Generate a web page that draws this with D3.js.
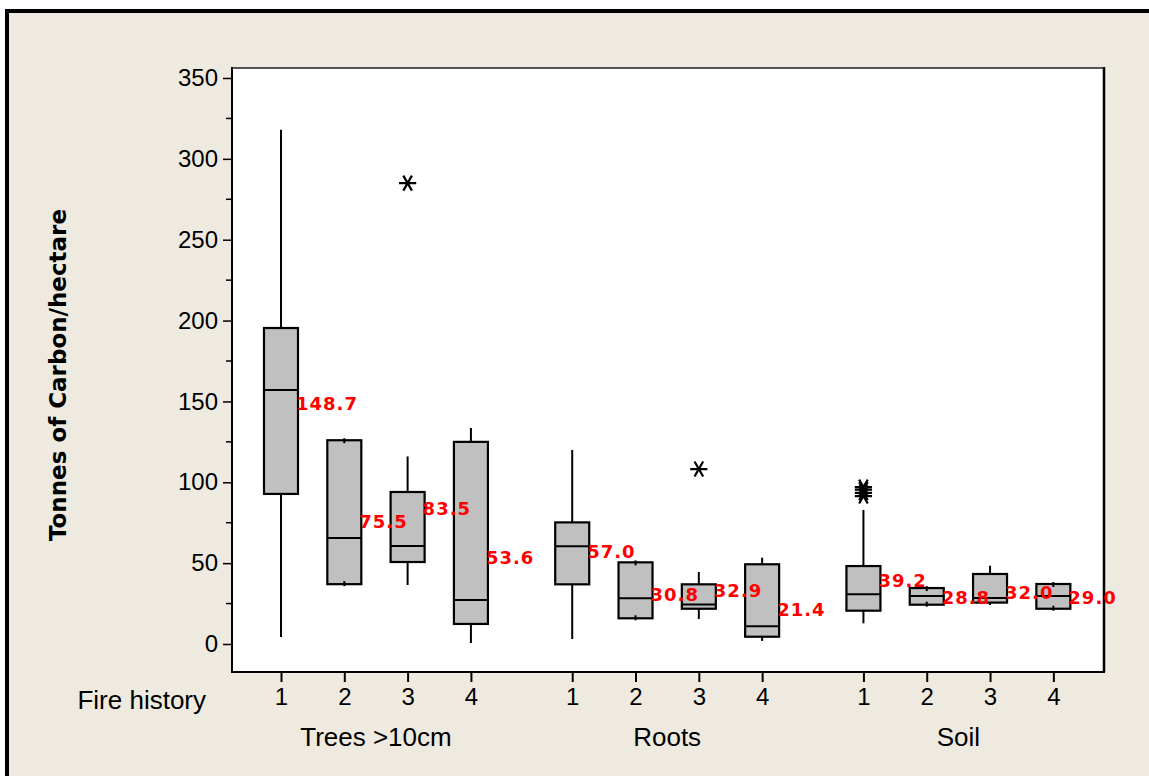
<!DOCTYPE html>
<html>
<head>
<meta charset="utf-8">
<script src="https://cdn.jsdelivr.net/npm/d3@7"></script>
<style>
  body { margin: 0; background: #ffffff; }
  svg { display: block; }
</style>
</head>
<body>
<svg width="1149" height="776"></svg>
<script>
// categories
var groups = ["Trees >10cm", "Roots", "Soil"];
var fireLevels = ["1", "2", "3", "4"];

// box statistics, 12 boxes in order group x fire history
var whiskerLow  = [4.3, 37.0, 36.5, 0.6,   3.1, 15.9, 15.5, 1.9,   12.8, 24.3, 24.1, 21.8];
var q1          = [92.8, 37.0, 50.7, 12.4,  36.9, 15.9, 21.8, 4.5,  20.6, 24.3, 25.6, 21.8];
var medians     = [157.0, 65.5, 60.6, 27.2, 60.4, 28.3, 24.5, 10.9, 30.7, 29.7, 28.4, 29.7];
var q3          = [195.4, 126.0, 94.0, 125.0, 75.2, 50.5, 36.9, 49.3, 48.2, 34.6, 43.3, 37.1];
var whiskerHigh = [318.0, 126.0, 116.0, 133.6, 120.0, 50.5, 44.5, 53.4, 82.9, 34.6, 48.4, 37.1];
var means       = [148.7, 75.5, 83.5, 53.6, 57.0, 30.8, 32.9, 21.4, 39.2, 28.8, 32.0, 29.0];
var outliers    = [[], [], [285.0], [], [], [], [108.2], [], [91.5, 93.5, 95.5, 97.0], [], [], []];
var yTicks = [0, 50, 100, 150, 200, 250, 300, 350];

var boxes = [];
groups.forEach(function (g, gi) {
    fireLevels.forEach(function (f, fi) {
        var i = gi * fireLevels.length + fi;
        boxes.push({
            group: gi, level: fi, label: f,
            lo: whiskerLow[i], q1: q1[i], med: medians[i], q3: q3[i], hi: whiskerHigh[i],
            mean: means[i], out: outliers[i]
        });
    });
});

var svg = d3.select("svg");
var plot = { left: 232, right: 1104, top: 68, bottom: 672 };
var font = "Liberation Sans, Arial, sans-serif";

// background frame
svg.append("rect")
    .attr("x", 7).attr("y", 11)
    .attr("width", 1200).attr("height", 800)
    .attr("fill", "#eeeae0")
    .attr("stroke", "#000").attr("stroke-width", 4);

svg.append("rect")
    .attr("x", plot.left).attr("y", plot.top)
    .attr("width", plot.right - plot.left).attr("height", plot.bottom - plot.top)
    .attr("fill", "#fff");

var groupGap = 4.6;
function pos(d) { return d.group * groupGap + d.level; }

var x = d3.scaleLinear().domain([-0.774, 13.0]).range([plot.left, plot.right]);
var y = d3.scaleLinear().domain([0, 350]).range([644, 78]);

// frame lines of plot area
svg.append("line").attr("x1", plot.left).attr("x2", plot.right).attr("y1", plot.top).attr("y2", plot.top)
    .attr("stroke", "#555").attr("stroke-width", 2);
svg.append("line").attr("x1", plot.right).attr("x2", plot.right).attr("y1", plot.top - 1).attr("y2", plot.bottom)
    .attr("stroke", "#000").attr("stroke-width", 2.5);

// y axis
var yAxis = svg.append("g")
    .attr("transform", "translate(" + plot.left + ",0)")
    .call(d3.axisLeft(y).tickValues(yTicks).tickSize(9).tickPadding(5));
yAxis.select(".domain").remove();
yAxis.selectAll(".tick line").attr("stroke", "#000").attr("stroke-width", 1.5);
yAxis.selectAll(".tick text")
    .attr("font-family", font)
    .attr("font-size", "24px").attr("fill", "#000");

var minor = d3.range(25, 350, 50);
svg.append("g").selectAll("line").data(minor).enter().append("line")
    .attr("x1", plot.left - 6).attr("x2", plot.left)
    .attr("y1", function (d) { return y(d); }).attr("y2", function (d) { return y(d); })
    .attr("stroke", "#000").attr("stroke-width", 1.5);

svg.append("line").attr("x1", plot.left).attr("x2", plot.left).attr("y1", plot.top - 1).attr("y2", plot.bottom + 1)
    .attr("stroke", "#000").attr("stroke-width", 2);

// x axis
var xAxis = svg.append("g")
    .attr("transform", "translate(0," + plot.bottom + ")")
    .call(d3.axisBottom(x).tickValues(boxes.map(pos)).tickSize(10).tickPadding(6)
        .tickFormat(function (d, i) { return boxes[i].label; }));
xAxis.select(".domain").remove();
xAxis.selectAll(".tick line").attr("stroke", "#000").attr("stroke-width", 2);
xAxis.selectAll(".tick text")
    .attr("font-family", font)
    .attr("font-size", "24px").attr("fill", "#000");

svg.append("line").attr("x1", plot.left - 1).attr("x2", plot.right + 1).attr("y1", plot.bottom).attr("y2", plot.bottom)
    .attr("stroke", "#000").attr("stroke-width", 2);

svg.append("text")
    .attr("x", 206).attr("y", 709)
    .attr("text-anchor", "end")
    .attr("font-family", font)
    .attr("font-size", "26px")
    .text("Fire history");

svg.append("g").selectAll("text").data(groups).enter().append("text")
    .attr("x", function (d, gi) { return x(gi * groupGap + 1.5); })
    .attr("y", 746)
    .attr("text-anchor", "middle")
    .attr("font-family", font)
    .attr("font-size", "26px")
    .text(function (d) { return d; });

svg.append("text")
    .attr("transform", "translate(66,375) rotate(-90)")
    .attr("text-anchor", "middle")
    .attr("font-family", "DejaVu Sans, sans-serif")
    .attr("font-weight", "bold")
    .attr("font-size", "23px")
    .text("Tonnes of Carbon/hectare");

// boxes
var hw = 17;
var bg = svg.append("g").selectAll("g").data(boxes).enter().append("g");

bg.append("line")
    .attr("x1", function (d) { return x(pos(d)); }).attr("x2", function (d) { return x(pos(d)); })
    .attr("y1", function (d) { return y(d.hi); }).attr("y2", function (d) { return y(d.lo); })
    .attr("stroke", "#000").attr("stroke-width", 2);

bg.append("rect")
    .attr("x", function (d) { return x(pos(d)) - hw; })
    .attr("y", function (d) { return y(d.q3); })
    .attr("width", hw * 2)
    .attr("height", function (d) { return y(d.q1) - y(d.q3); })
    .attr("fill", "#c0c0c0").attr("stroke", "#000").attr("stroke-width", 2.2);

bg.append("line")
    .attr("x1", function (d) { return x(pos(d)) - hw; }).attr("x2", function (d) { return x(pos(d)) + hw; })
    .attr("y1", function (d) { return y(d.med); }).attr("y2", function (d) { return y(d.med); })
    .attr("stroke", "#000").attr("stroke-width", 2);

// whisker stubs where whiskers have zero length
bg.filter(function (d) { return d.hi === d.q3; }).append("line")
    .attr("x1", function (d) { return x(pos(d)); }).attr("x2", function (d) { return x(pos(d)); })
    .attr("y1", function (d) { return y(d.q3) - 2; }).attr("y2", function (d) { return y(d.q3) + 3; })
    .attr("stroke", "#000").attr("stroke-width", 2);
bg.filter(function (d) { return d.lo === d.q1; }).append("line")
    .attr("x1", function (d) { return x(pos(d)); }).attr("x2", function (d) { return x(pos(d)); })
    .attr("y1", function (d) { return y(d.q1) - 3; }).attr("y2", function (d) { return y(d.q1) + 2; })
    .attr("stroke", "#000").attr("stroke-width", 2);

// outliers
var star = d3.symbol().type(d3.symbolAsterisk).size(210);
bg.each(function (d) {
    d3.select(this).selectAll("path.out").data(d.out).enter().append("path")
        .attr("class", "out")
        .attr("d", star)
        .attr("transform", function (v) { return "translate(" + x(pos(d)) + "," + y(v) + ") rotate(90)"; })
        .attr("fill", "none").attr("stroke", "#000").attr("stroke-width", 2.2);
});

// mean labels, on top of all boxes
svg.append("g").selectAll("text").data(boxes).enter().append("text")
    .attr("x", function (d) { return x(pos(d)) + hw - 2; })
    .attr("y", function (d) { return y(d.mean); })
    .attr("dy", "0.36em")
    .attr("font-family", "DejaVu Sans, sans-serif")
    .attr("font-weight", "bold")
    .attr("font-size", "18px")
    .attr("letter-spacing", "1px")
    .attr("fill", "#ff0000")
    .text(function (d) { return d.mean.toFixed(1); });
</script>
</body>
</html>
